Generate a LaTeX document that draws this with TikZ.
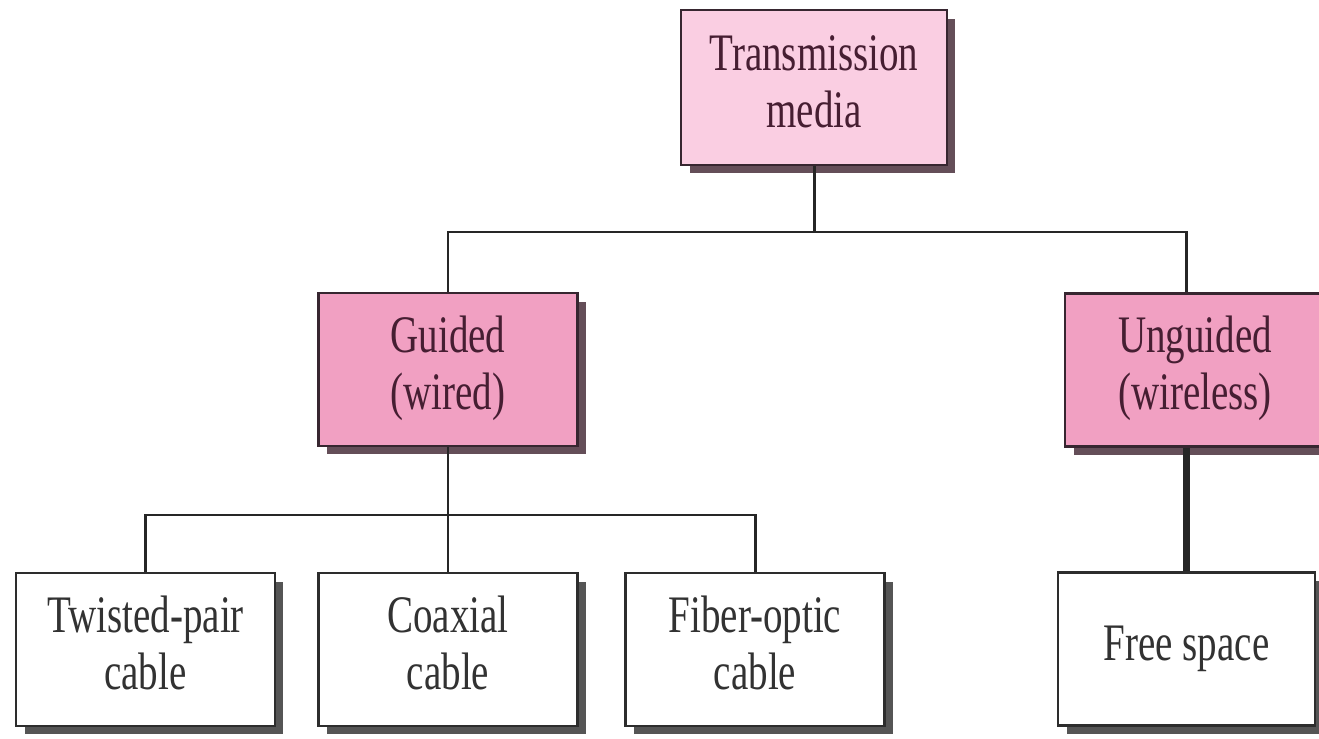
\documentclass[tikz,border=0pt]{standalone}
\usepackage{fontspec}
\setmainfont{Liberation Serif}
\usepackage{graphicx}
\usetikzlibrary{shadows}
\definecolor{lightpink}{RGB}{250,206,226}
\definecolor{midpink}{RGB}{241,160,194}
\definecolor{shadowc}{RGB}{100,78,88}
\definecolor{greyshadow}{RGB}{85,85,85}
\definecolor{borderc}{RGB}{55,38,48}
\definecolor{greyborder}{RGB}{45,45,45}
\definecolor{pinktext}{RGB}{70,30,50}
\definecolor{greytext}{RGB}{50,50,50}
\newcommand{\nodetext}[1]{\scalebox{0.74}[1]{\begin{tabular}{@{}c@{}}#1\end{tabular}}}
\tikzset{
  box/.style={line width=1.6pt, inner sep=0pt, align=center,
    minimum width=5.18cm, minimum height=3.06cm,
    font=\fontsize{30}{32.4}\selectfont},
  pinkshadow/.style={drop shadow={shadow xshift=0.17cm, shadow yshift=-0.17cm, fill=shadowc, opacity=1}},
  greyshadowst/.style={drop shadow={shadow xshift=0.17cm, shadow yshift=-0.17cm, fill=greyshadow, opacity=1}},
  topbox/.style={box, pinkshadow, draw=borderc, fill=lightpink, text=pinktext, minimum width=5.32cm, minimum height=3.1cm},
  catbox/.style={box, pinkshadow, draw=borderc, fill=midpink, text=pinktext},
  leafbox/.style={box, greyshadowst, draw=greyborder, fill=white, text=greytext},
  conn/.style={draw=black!85, line width=1.7pt},
  thickconn/.style={draw=black!85, line width=4pt}
}
\begin{document}
\begin{tikzpicture}[x=0.02cm, y=-0.02cm]
\useasboundingbox (0,0) rectangle (1319,739);
\fill[white] (0,0) rectangle (1319,739);
\clip (0,0) rectangle (1319,739);
\node[topbox] (tm) at (814,87.5) {\nodetext{Transmission\\media}};
\node[catbox] (g) at (448,369.5) {\nodetext{Guided\\(wired)}};
\node[catbox, minimum width=5.2cm] (u) at (1195,370) {\nodetext{Unguided\\(wireless)}};
\node[leafbox] (tp) at (145.5,649.5) {\nodetext{Twisted-pair\\cable}};
\node[leafbox] (co) at (448,649.5) {\nodetext{Coaxial\\cable}};
\node[leafbox] (fo) at (755,649.5) {\nodetext{Fiber-optic\\cable}};
\node[leafbox, minimum width=5.14cm] (fs) at (1186.5,649) {\nodetext{Free space}};
\coordinate (j1) at (814,232);
\coordinate (j2) at (448,515);
\draw[conn] (tm.south) -- (j1);
\draw[conn] (g.north) |- (j1) -| (fs.north |- u.north);
\draw[conn] (g.south) -- (j2);
\draw[conn] (tp.north) |- (j2) -| (fo.north);
\draw[conn] (j2) -- (co.north);
\draw[thickconn] (fs.north |- u.south) -- (fs.north);
\end{tikzpicture}
\end{document}
